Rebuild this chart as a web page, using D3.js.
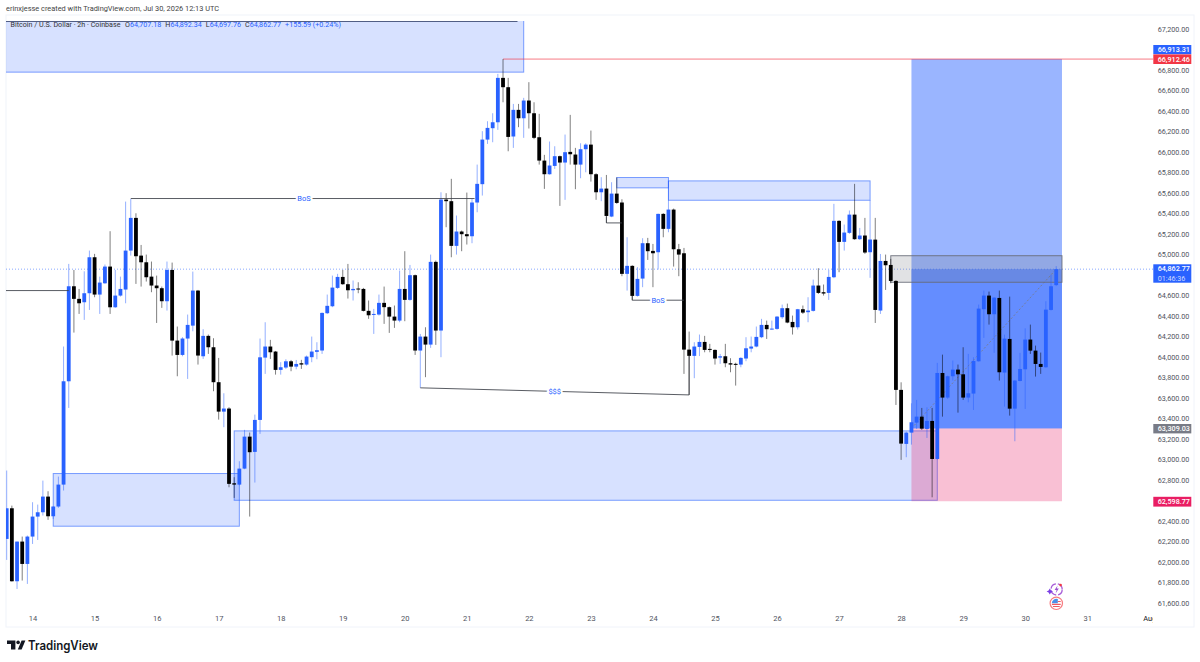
<!DOCTYPE html>
<html>
<head>
<meta charset="utf-8">
<style>
  html, body { margin: 0; padding: 0; background: #fff; }
  svg { display: block; font-family: Roboto, "Noto Sans", sans-serif; }
</style>
<script src="https://cdn.jsdelivr.net/npm/d3@7/dist/d3.min.js"></script>
</head>
<body>
<svg id="chart" width="1200" height="662"></svg>
<script>
// BTC/USD 2h candles, oldest first
const opens = [
  62231,62530,61818,62205,61987,62254,62449,62491,62644,62452,
  62547,62761,63769,64696,64573,64540,64628,64979,64615,64725,
  64888,64491,64605,64664,65044,65363,64995,64930,64790,64703,
  64677,64550,64855,64166,64026,64186,64312,64654,64013,64212,
  64101,63760,63473,63503,62774,62761,62917,63229,63080,63392,
  64000,64108,64059,63880,63903,63964,63912,63945,63932,64004,
  64056,64069,64433,64501,64680,64787,64716,64657,64674,64670,
  64456,64420,64420,64534,64492,64400,64361,64670,64563,64804,
  64069,64205,64127,64934,64264,65542,65526,65090,65230,65204,
  65184,65513,65692,66127,66238,66296,66729,66638,66157,66417,
  66335,66508,66384,66150,65922,65789,65870,65965,65903,66007,
  65981,65883,66033,66078,65789,65613,65649,65376,65600,65513,
  64817,64895,64602,64771,65116,65041,65028,65402,65256,65444,
  65057,65018,64078,64017,64104,64153,64085,64075,64000,64013,
  63945,63939,63932,63991,64088,64108,64199,64319,64277,64280,
  64394,64482,64348,64296,64472,64443,64456,64703,64638,64631,
  64784,65334,65129,65217,65395,65155,65191,65028,65151,64459,
  64943,64904,64748,63685,63158,63268,63366,63424,63304,63382,
  63011,63850,63610,63818,63883,63837,63610,63649,63964,64472,
  64605,64423,64582,63854,64182,63502,63772,63886,64176,64068,
  63938,63906,64465,64707.18
];
const highs = [
  62898,62556,62205,62254,62264,62589,62566,62800,62696,62550,
  62839,64108,64914,64855,64670,64842,65044,65012,64790,64908,
  65233,64855,64790,65522,65548,65408,65099,65005,64937,64800,
  64693,64937,64927,64303,64199,64420,64839,64660,64277,64225,
  64189,63997,63652,63516,62833,62989,63295,63269,63444,64186,
  64345,64173,64065,63955,63984,63977,63977,63978,64020,64205,
  64150,64440,64615,64800,64817,64856,64914,64752,64735,64680,
  64557,64475,64615,64693,64498,64508,64849,65038,64904,64810,
  64231,64296,65005,64947,65613,65604,65744,65386,65240,65610,
  65548,65883,66209,66306,66384,66768,66912.46,66729,66475,66475,
  66534,66687,66491,66378,65978,66108,66062,65971,66176,66368,
  66046,66091,66091,66215,65799,65760,65782,65711,65757,65545,
  65174,64901,64882,65165,65168,65109,65405,65409,65724,65454,
  65109,65070,64254,64150,64225,64212,64134,64080,64036,64134,
  63994,63950,64004,64199,64205,64303,64378,64361,64361,64405,
  64517,64527,64410,64475,64508,64589,64761,64872,64713,64856,
  65500,65340,65298,65435,65695,65265,65363,65535,65363,65011,
  65005,64963,64755,63759,63278,63554,63587,63509,63515,63509,
  63948,64029,63824,63971,63932,64101,64036,64003,64517,64654,
  64644,64590,64654,64224,64595,63782,64046,64286,64322,64117,
  64049,64550,64806,64892.34
];
const lows = [
  62026,61815,61743,61825,61792,62182,62221,62459,62417,62426,
  62534,62703,63509,64244,64426,64368,64465,64589,64426,64719,
  64426,64485,64595,64530,64995,64719,64693,64742,64638,64338,
  64485,64459,64020,63818,64013,63792,64257,63932,63987,64036,
  63672,63395,63321,62735,62631,62755,62911,62449,62781,63256,
  63841,63987,63834,63834,63890,63867,63886,63890,63922,63955,
  63984,64036,64425,64492,64670,64710,64576,64557,64628,64450,
  64378,64231,64410,64329,64241,64290,64345,64355,64555,64026,
  63705,63809,64095,64124,64004,65272,64979,65005,65038,65103,
  65116,65418,65581,66085,66101,66222,66491,66013,66046,66248,
  66144,66235,66131,65883,65646,65785,65841,65480,65539,65883,
  65643,65750,65808,65717,65539,65526,65314,65370,65500,64794,
  64654,64560,64595,64687,64953,64687,64859,65174,65223,64888,
  64794,63841,63636,63799,64015,64052,64052,63932,63939,63906,
  63857,63727,63906,63965,64052,64100,64190,64182,64272,64272,
  64378,64335,64225,64274,64426,64345,64449,64621,64605,64563,
  64775,64833,65044,65207,65150,65148,65012,64778,64338,64426,
  64660,64725,63538,63002,63028,63151,63304,63294,63216,62637,
  63005,63424,63597,63776,63463,63587,63564,63489,63960,64192,
  64322,64046,63776,63522,63434,63184,63768,63499,64036,63815,
  63841,63900,64459,64697.76
];
const closes = [
  62530,61818,62205,61987,62254,62449,62491,62644,62452,62547,
  62761,63769,64696,64573,64530,64628,64979,64615,64732,64888,
  64491,64605,64670,65044,65363,64989,64930,64784,64703,64677,
  64550,64855,64166,64026,64186,64319,64654,64020,64212,64101,
  63760,63473,63503,62768,62761,62917,63229,63077,63392,64003,
  64108,64052,63880,63906,63964,63912,63938,63932,64010,64059,
  64072,64436,64505,64683,64787,64716,64657,64670,64664,64456,
  64413,64426,64534,64492,64400,64361,64670,64563,64804,64069,
  64205,64127,64934,64264,65542,65526,65090,65230,65204,65184,
  65513,65695,66127,66241,66296,66729,66638,66153,66417,66335,
  66508,66384,66144,65922,65789,65874,65965,65903,66004,65984,
  65883,66033,66078,65789,65613,65649,65382,65600,65509,64817,
  64895,64602,64768,65116,65038,65018,65402,65256,65444,65057,
  65005,64078,64017,64108,64153,64075,64075,63991,64013,63945,
  63932,63929,63997,64091,64108,64202,64319,64277,64283,64400,
  64482,64342,64296,64472,64439,64459,64703,64631,64625,64787,
  65334,65129,65220,65395,65155,65191,65025,65152,64465,64943,
  64901,64748,63685,63161,63268,63369,63424,63307,63382,63011,
  63850,63610,63818,63883,63837,63610,63652,63967,64478,64605,
  64423,64585,63857,64185,63502,63776,63889,64176,64068,63938,
  63909,64468,64696,64862.77
];

const priceTicks = d3.range(61600, 67201, 200);
const dayTicks = d3.range(14, 32).map(String).concat(["Aug"]);
const firstDayBar = 5;
const barsPerDay = 12;

const lastPrice = 64862.77;
const targetPrice = 66913.31;
const highPrice = 66912.46;
const entryPrice = 63309.03;
const stopPrice = 62598.77;
const countdown = "01:46:36";

// Supply and demand zones: bar range and price range
const zoneStarts  = [-2, 9, 44, 118, 128];
const zoneEnds    = [100, 45, 180, 128, 167];
const zoneTops    = [67290, 62869, 63285, 65757, 65724];
const zoneBottoms = [66785, 62355, 62608, 65656, 65535];

// Position tool and the grey reaction box, in bar indexes
const positionStartBar = 175;
const positionEndBar = 204;
const lastBar = 203;
const reactionBox = { start: 171, end: 204, top: 64994, bottom: 64735 };

// Structure lines, each a list of [bar, price] vertices
const structureLines = [
  [[-2, 64654], [12, 64654]],
  [[24, 65552], [90.5, 65552]],
  [[116, 65378], [116, 65314], [119, 65314]],
  [[121, 64602], [121, 64560], [131, 64560]],
  [[80, 63705], [132, 63636], [132, 64017]]
];
const structureTags = [
  { text: "BoS", bar: 57.5, price: 65552 },
  { text: "BoS", bar: 126, price: 64560 },
  { text: "$$$", bar: 106, price: 63672 }
];

const ohlcParts = [["O", "64,707.18"], ["H", "64,892.34"], ["L", "64,697.76"], ["C", "64,862.77"]];

const BLUE = "#2962ff", BLACK = "#000000";

const svg = d3.select("#chart");
const x = d3.scaleLinear().domain([0, 221]).range([6.7, 6.7 + 5.17 * 221]);
const y = d3.scaleLinear().domain([61600, 67200]).range([603.6, 29.6]);

const defs = svg.append("defs");
defs.append("clipPath").attr("id", "plot").append("rect")
  .attr("x", 6).attr("y", 21).attr("width", 1147.3).attr("height", 606);
defs.append("clipPath").attr("id", "legendClip").append("rect")
  .attr("x", 6).attr("y", 21.6).attr("width", 400).attr("height", 12);
defs.append("clipPath").attr("id", "timeClip").append("rect")
  .attr("x", 6).attr("y", 610).attr("width", 1147).attr("height", 17);

// Chart frame
svg.append("rect").attr("x", 6).attr("y", 15).attr("width", 1188).attr("height", 612)
  .attr("fill", "#fff").attr("stroke", "#f0f3fa");

// Header line above the chart
svg.append("text").attr("x", 6).attr("y", 11).attr("font-size", 7.4).attr("fill", "#444")
  .text("erinxjesse created with TradingView.com, Jul 30, 2026 12:13 UTC");

const plot = svg.append("g").attr("clip-path", "url(#plot)");

// Last price dotted line
plot.append("line")
  .attr("x1", 6).attr("x2", 1153).attr("y1", y(lastPrice)).attr("y2", y(lastPrice))
  .attr("stroke", BLUE).attr("stroke-opacity", 0.55).attr("stroke-dasharray", "1 2");

// Zones
plot.selectAll("rect.zone").data(zoneStarts).join("rect").attr("class", "zone")
  .attr("x", (d) => x(d))
  .attr("width", (d, i) => x(zoneEnds[i]) - x(d))
  .attr("y", (d, i) => y(zoneTops[i]))
  .attr("height", (d, i) => y(zoneBottoms[i]) - y(zoneTops[i]))
  .attr("fill", BLUE).attr("fill-opacity", 0.19)
  .attr("stroke", BLUE).attr("stroke-opacity", 0.6);

// Position tool: target and stop areas, plus the filled part up to the last price
const posX = x(positionStartBar), posW = x(positionEndBar) + 0.6 - posX;
plot.append("rect").attr("x", posX).attr("width", posW)
  .attr("y", y(targetPrice)).attr("height", y(entryPrice) - y(targetPrice))
  .attr("fill", BLUE).attr("fill-opacity", 0.47);
plot.append("rect").attr("x", posX).attr("width", posW)
  .attr("y", y(lastPrice)).attr("height", y(entryPrice) - y(lastPrice))
  .attr("fill", BLUE).attr("fill-opacity", 0.48);
plot.append("rect").attr("x", posX).attr("width", posW)
  .attr("y", y(entryPrice)).attr("height", y(stopPrice) - y(entryPrice))
  .attr("fill", "#e91e63").attr("fill-opacity", 0.28);

// Path of the trade from entry to the last price
plot.append("line")
  .attr("x1", posX).attr("y1", y(entryPrice))
  .attr("x2", x(lastBar)).attr("y2", y(lastPrice))
  .attr("stroke", "#787b86").attr("stroke-opacity", 0.8).attr("stroke-dasharray", "2 2");

// Grey reaction box
plot.append("rect")
  .attr("x", x(reactionBox.start)).attr("width", x(reactionBox.end) + 0.6 - x(reactionBox.start))
  .attr("y", y(reactionBox.top)).attr("height", y(reactionBox.bottom) - y(reactionBox.top))
  .attr("fill", "#787b86").attr("fill-opacity", 0.22)
  .attr("stroke", "#666a75").attr("stroke-opacity", 0.85);

// Swing high line
plot.append("line")
  .attr("x1", x(96)).attr("x2", 1153).attr("y1", y(highPrice)).attr("y2", y(highPrice))
  .attr("stroke", "#f23645").attr("stroke-opacity", 0.65);

// Candles
const bars = opens.map((o, i) => ({ i, o, h: highs[i], l: lows[i], c: closes[i] }));
const color = (d) => (d.c >= d.o ? BLUE : BLACK);
plot.selectAll("line.wick").data(bars).join("line").attr("class", "wick")
  .attr("x1", (d) => x(d.i)).attr("x2", (d) => x(d.i))
  .attr("y1", (d) => y(d.h)).attr("y2", (d) => y(d.l))
  .attr("stroke", color).attr("stroke-opacity", 0.5);
plot.selectAll("rect.body").data(bars).join("rect").attr("class", "body")
  .attr("x", (d) => x(d.i) - 1.9).attr("width", 3.8)
  .attr("y", (d) => y(Math.max(d.o, d.c)))
  .attr("height", (d) => Math.max(1, Math.abs(y(d.o) - y(d.c))))
  .attr("fill", color);

// Structure lines and their tags
const path = d3.line().x((d) => x(d[0])).y((d) => y(d[1]));
plot.selectAll("path.structure").data(structureLines).join("path").attr("class", "structure")
  .attr("d", path).attr("fill", "none").attr("stroke", "#3c3f48").attr("stroke-opacity", 0.85);
plot.selectAll("text.tag").data(structureTags).join("text").attr("class", "tag")
  .attr("x", (d) => x(d.bar)).attr("y", (d) => y(d.price) + 2.5)
  .attr("text-anchor", "middle").attr("font-size", 7.5).attr("fill", BLUE)
  .attr("stroke", "#fff").attr("stroke-width", 4).attr("paint-order", "stroke")
  .text((d) => d.text);

// Upper edge of the chart pane where it crops the top zone
svg.append("line").attr("x1", 6).attr("x2", x(98.8)).attr("y1", 21.5).attr("y2", 21.5)
  .attr("stroke", "#3a4670").attr("stroke-opacity", 0.85);

// Symbol legend
const legend = svg.append("text").attr("clip-path", "url(#legendClip)")
  .attr("x", 10.5).attr("y", 27).attr("font-size", 7.15).attr("fill", "#333");
legend.append("tspan").text("Bitcoin / U.S. Dollar · 2h · Coinbase");
ohlcParts.forEach((p, k) => {
  legend.append("tspan").attr("dx", k ? 4 : 4.5).text(p[0]);
  legend.append("tspan").attr("fill", BLUE).text(p[1]);
});
legend.append("tspan").attr("dx", 4).attr("fill", BLUE).text("+155.59 (+0.24%)");

// Price axis
const priceAxis = svg.append("g").attr("transform", "translate(1157.7,-0.6)")
  .call(d3.axisRight(y).tickValues(priceTicks).tickSize(0).tickPadding(0).tickFormat(d3.format(",.2f")));
priceAxis.select(".domain").remove();
priceAxis.selectAll("text").attr("font-size", 7.2).attr("font-family", "Roboto").attr("fill", "#50535e");

// Time axis
const timeAxis = svg.append("g").attr("clip-path", "url(#timeClip)")
  .append("g").attr("transform", "translate(0,615.5)")
  .call(d3.axisBottom(x)
    .tickValues(dayTicks.map((_, k) => firstDayBar + k * barsPerDay))
    .tickSize(0).tickPadding(0)
    .tickFormat((d) => dayTicks[(d - firstDayBar) / barsPerDay]));
timeAxis.select(".domain").remove();
timeAxis.selectAll("text").attr("font-size", 7.5).attr("font-family", "Roboto").attr("fill", "#50535e");
timeAxis.selectAll(".tick:last-child text").attr("fill", "#131722");

// Price labels on the axis
const priceTags = [
  { text: d3.format(",.2f")(targetPrice), top: 45, h: 9.2, fill: BLUE },
  { text: d3.format(",.2f")(highPrice), top: 54.4, h: 9.6, fill: "#f23645" },
  { text: d3.format(",.2f")(entryPrice), top: 424, h: 9.4, fill: "#787b86" },
  { text: d3.format(",.2f")(stopPrice), top: 496.8, h: 9.8, fill: "#e91e63" }
];
const tagG = svg.append("g");
tagG.selectAll("rect").data(priceTags).join("rect")
  .attr("x", 1153.3).attr("width", 38).attr("y", (d) => d.top).attr("height", (d) => d.h)
  .attr("fill", (d) => d.fill);
tagG.selectAll("text").data(priceTags).join("text")
  .attr("x", 1157.7).attr("y", (d) => d.top + d.h / 2 + 2.5)
  .attr("font-size", 7.2).attr("font-weight", 500).attr("fill", "#fff").text((d) => d.text);
tagG.append("rect").attr("x", 1153.3).attr("y", 264.3).attr("width", 38).attr("height", 18.4).attr("fill", BLUE);
tagG.append("text").attr("x", 1157.7).attr("y", 271.2).attr("font-size", 7.2).attr("font-weight", 500)
  .attr("fill", "#fff").text(d3.format(",.2f")(lastPrice));
tagG.append("text").attr("x", 1157.7).attr("y", 280.6).attr("font-size", 7.2)
  .attr("fill", "#cddaff").text(countdown);

// Event markers near the time axis
const marks = svg.append("g");
const spark = marks.append("g").attr("transform", "translate(1056.6,589.4)");
spark.append("circle").attr("r", 5.6).attr("fill", "none").attr("stroke", "#a85fd8")
  .attr("stroke-width", 1.3).attr("stroke-dasharray", "7 2");
spark.append("path").attr("d", "M1,-4 L-2,0.6 L0,0.6 L-1,4 L2.2,-0.8 L0.2,-0.8 Z").attr("fill", "#9c4fd0");
spark.append("path").attr("d", "M-6.8,-1 L-5.6,1 L-3.6,2 L-5.6,3 L-6.8,5 L-8,3 L-10,2 L-8,1 Z").attr("fill", "#7b3fe4");
spark.append("circle").attr("cx", 4).attr("cy", -4.3).attr("r", 1.3).attr("fill", "#f23645");
const flag = marks.append("g").attr("transform", "translate(1056.3,603.3)");
flag.append("circle").attr("r", 6.2).attr("fill", "#fff").attr("stroke", "#f77c80").attr("stroke-width", 1.2);
flag.append("path").attr("d", "M-4.5,0 A4.5,4.5 0 0 1 1.5,-4.2 L1.5,0 Z").attr("fill", "#4a90e8");
flag.append("path").attr("d", "M1.5,-2.4 H4.4 V-1.2 H1.5 Z M-4.4,0.4 H4.4 V1.6 H-4.4 Z M-3.4,2.6 H3.4 V3.6 H-3.4 Z").attr("fill", "#ef5a63");

// Brand mark
const brand = svg.append("g").attr("fill", "#131722");
brand.append("path").attr("d", "M7,640.6 H15.4 V649.6 H11 V644 H7 Z");
brand.append("circle").attr("cx", 18.1).attr("cy", 642.4).attr("r", 1.8);
brand.append("path").attr("d", "M21.6,640.6 H25.4 L21.6,649.6 H17.8 Z");
brand.append("text").attr("x", 28).attr("y", 649.8).attr("font-family", "Inter, Roboto")
  .attr("font-size", 12.6).attr("font-weight", 600)
  .attr("textLength", 70).attr("lengthAdjust", "spacingAndGlyphs").text("TradingView");
</script>
</body>
</html>
